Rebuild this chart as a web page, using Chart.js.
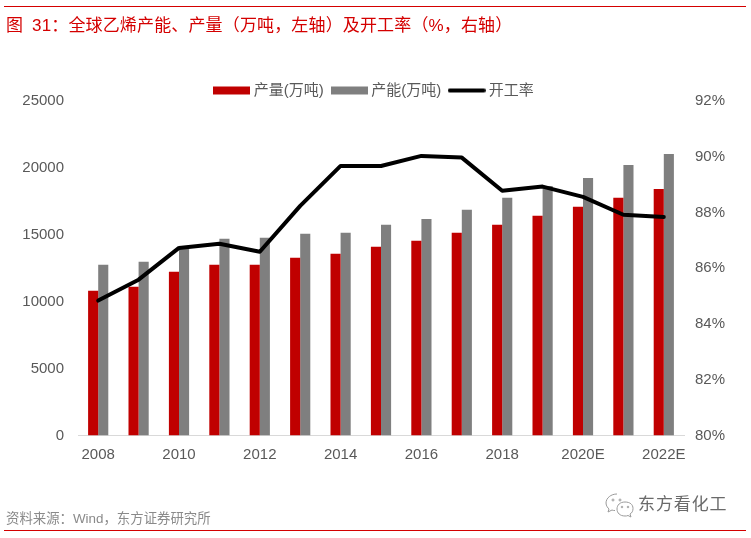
<!DOCTYPE html>
<html><head><meta charset="utf-8">
<script src="https://cdn.jsdelivr.net/npm/chart.js@4"></script>
<style>
html,body{margin:0;padding:0;background:#fff;width:751px;height:538px;overflow:hidden;font-family:"Liberation Sans","Noto Sans CJK SC",sans-serif}
#wrap{position:absolute;left:0;top:0;width:751px;height:538px}
canvas#c{position:absolute;left:0;top:0}
.rule{position:absolute;left:4px;width:742px;height:1px;background:#d40000}
.t{position:absolute;white-space:nowrap}
#title{left:6px;top:16px;font-size:17px;line-height:20px;color:#d40000;letter-spacing:.15px;word-spacing:4px}
#src{left:6px;top:511px;font-size:13.4px;line-height:16px;color:#8a8a8a}
#wm{left:638px;top:494px;font-size:17px;line-height:22px;color:#6a6a6a;letter-spacing:.9px}
#ico{position:absolute;left:605px;top:493px}
</style></head><body>
<div id="wrap">
<canvas id="c" width="751" height="538"></canvas>
<div class="rule" style="top:6px"></div>
<div class="rule" style="top:530px"></div>
<div class="t" id="title">图 31：全球乙烯产能、产量（万吨，左轴）及开工率（%，右轴）</div>
<div class="t" id="src">资料来源：Wind，东方证券研究所</div>
<svg id="ico" width="30" height="26" viewBox="0 0 30 26" fill="none" stroke="#9a9a9a" stroke-width="1">
<path d="M12 1C6 1 1 5 1 10c0 3 2 5 3 6l-1 3 4-2c1 .5 2 .5 3 .5"/>
<path d="M20 9c-5 0-8 3-8 7s3 7 8 7c1 0 2 0 3-.5l3 1.5-1-3c2-1 3-3 3-5.500 0-4-3-6.500-8-6.500z"/>
<circle cx="8" cy="7" r="1"/><circle cx="15" cy="7" r="1"/><circle cx="17" cy="14" r=".8"/><circle cx="23" cy="14" r=".8"/>
</svg>
<div class="t" id="wm">东方看化工</div>
</div>
<script>
const categories=["2008","2009","2010","2011","2012","2013","2014","2015","2016","2017","2018","2019","2020E","2021E","2022E"];
const output=[10820,11120,12240,12760,12760,13280,13580,14100,14550,15150,15750,16420,17090,17760,18430];
const capacity=[12760,12985,14030,14700,14775,15075,15150,15750,16190,16865,17760,18650,19250,20220,21040];
const utilization=[84.84,85.59,86.73,86.88,86.59,88.24,89.67,89.67,90.03,89.97,88.78,88.93,88.56,87.92,87.84];
const seriesNames=["产量(万吨)","产能(万吨)","开工率"];
const tickColor="#595959";
const font={family:'"Liberation Sans","Noto Sans CJK SC",sans-serif',size:15};
function swatch(color,w,h,round){
  const cv=document.createElement('canvas');cv.width=w;cv.height=10;
  const x=cv.getContext('2d');x.fillStyle=color;
  if(round){x.beginPath();x.roundRect(0,(10-h)/2,w,h,h/2);x.fill();}
  else x.fillRect(0,(10-h)/2,w,h);
  return cv;
}
new Chart(document.getElementById('c'),{
  data:{labels:categories,datasets:[
    {type:'line',label:seriesNames[2],data:utilization,yAxisID:'y2',borderColor:'#000',borderWidth:4,pointRadius:0,tension:0,borderCapStyle:'round',borderJoinStyle:'round',order:0},
    {type:'bar',label:seriesNames[0],data:output,yAxisID:'y',backgroundColor:'#c00000',categoryPercentage:.5,barPercentage:1,order:1},
    {type:'bar',label:seriesNames[1],data:capacity,yAxisID:'y',backgroundColor:'#7f7f7f',categoryPercentage:.5,barPercentage:1,order:2}
  ]},
  options:{
    responsive:false,animation:false,devicePixelRatio:1,
    layout:{padding:{top:72,left:0,right:0,bottom:0}},
    plugins:{
      tooltip:{enabled:false},
      legend:{position:'top',align:'center',maxHeight:29,
        labels:{usePointStyle:true,pointStyleWidth:29,font,color:tickColor,padding:11,
          generateLabels(){return [
            {text:seriesNames[0],pointStyle:swatch('#c00000',37,8),fontColor:tickColor,lineWidth:0,strokeStyle:'transparent'},
            {text:seriesNames[1],pointStyle:swatch('#7f7f7f',37,8),fontColor:tickColor,lineWidth:0,strokeStyle:'transparent'},
            {text:seriesNames[2],pointStyle:swatch('#000',38,4,true),fontColor:tickColor,lineWidth:0,strokeStyle:'transparent'}
          ];}
        },
        onClick:null
      }
    },
    scales:{
      x:{grid:{display:false,drawTicks:false},border:{color:'#d9d9d9',width:1},
        ticks:{autoSkip:false,maxRotation:0,font,color:tickColor,padding:10,callback(v,i){return i%2===0?this.getLabelForValue(v):'';}},
        afterFit(s){s.height=102.5;}},
      y:{position:'left',min:0,max:25000,grid:{display:false,drawTicks:false},border:{display:false},
        ticks:{stepSize:5000,font,color:tickColor,padding:14,callback:v=>String(v)},
        afterFit(s){s.width=78;}},
      y2:{position:'right',min:80,max:92,grid:{display:false,drawTicks:false},border:{display:false},
        ticks:{stepSize:2,font,color:tickColor,padding:11,callback:v=>v+'%'},
        afterFit(s){s.width=67;}}
    }
  }
});
</script>
</body></html>
